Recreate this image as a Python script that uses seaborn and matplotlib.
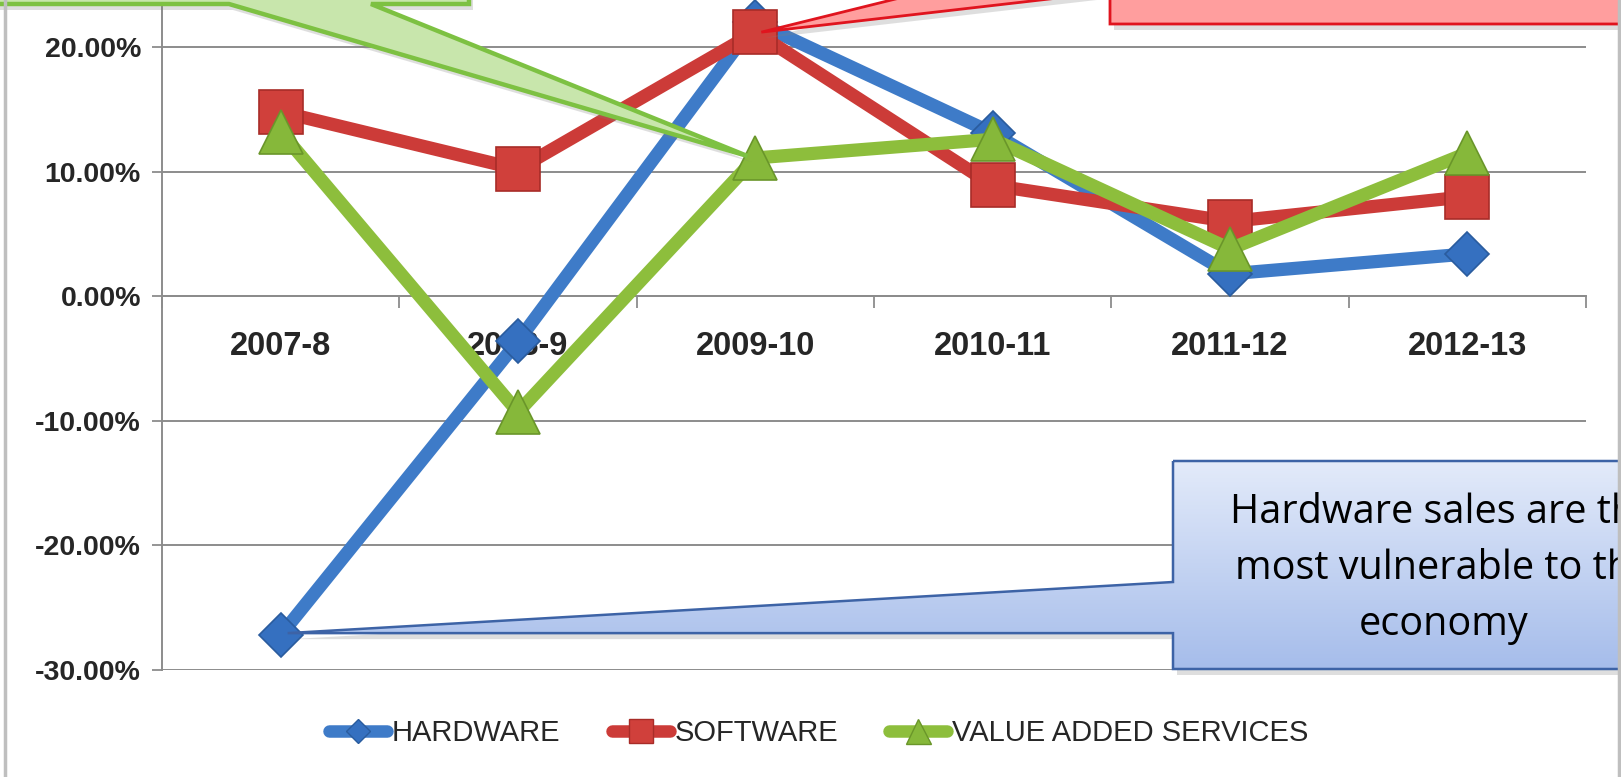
import numpy as np
import pandas as pd
import matplotlib
matplotlib.use("Agg")
import matplotlib.pyplot as plt
import seaborn as sns
from matplotlib.patches import Polygon
from matplotlib.lines import Line2D
from matplotlib.ticker import FixedLocator

# ---------------- data ----------------
categories = ["2007-8", "2008-9", "2009-10", "2010-11", "2011-12", "2012-13"]
hardware = [-27.2, -3.6, 22.0, 13.1, 1.8, 3.4]
software = [14.8, 10.2, 21.2, 8.9, 6.0, 8.0]
value_added = [13.2, -9.3, 11.1, 12.6, 3.8, 11.5]
series_names = ["HARDWARE", "SOFTWARE", "VALUE ADDED SERVICES"]
y_ticks = [-30, -20, -10, 0, 10, 20]
y_tick_labels = ["-30.00%", "-20.00%", "-10.00%", "0.00%", "10.00%", "20.00%"]
callout_lines = ["Hardware sales are the", "most vulnerable to the", "economy"]

# ---------------- style ----------------
sns.set_theme(style="white")
plt.rcParams["font.family"] = ["Liberation Sans", "DejaVu Sans"]

BLUE, RED, GREEN = "#3E7BC8", "#CC3B38", "#8DBE3C"
GRID = "#8C8C8C"

W, H = 1621, 777
fig = plt.figure(figsize=(W / 100, H / 100), dpi=100)
fig.patch.set_facecolor("white")
ax = fig.add_axes([162 / W, (H - 670) / H, (1586 - 162) / W, 670 / H])

pos = np.arange(len(categories))
df = pd.DataFrame({"pos": pos, "HARDWARE": hardware, "SOFTWARE": software,
                   "VALUE ADDED SERVICES": value_added})

specs = [
    ("HARDWARE", BLUE, "D", 22, "#3570C0", "#2A5C9E", 3),
    ("SOFTWARE", RED, "s", 31, "#D0403B", "#A82C28", 4),
    ("VALUE ADDED SERVICES", GREEN, "^", 32, "#86B83A", "#6A962A", 5),
]
for name, col, mk, ms, mfc, mec, z in specs:
    sns.lineplot(data=df, x="pos", y=name, ax=ax, color=col, linewidth=9.5,
                 marker=mk, markersize=ms, markerfacecolor=mfc,
                 markeredgecolor=mec, markeredgewidth=1.2, sort=False,
                 legend=False, zorder=z, solid_joinstyle="round",
                 solid_capstyle="round")

ax.set_xlim(-0.5, len(categories) - 0.5)
ax.set_ylim(-30, 23.78)
ax.set_xlabel("")
ax.set_ylabel("")
ax.set_facecolor("white")

# grid / spines
ax.yaxis.grid(True, color=GRID, linewidth=1.4)
ax.xaxis.grid(False)
ax.set_axisbelow(True)
for s in ["top", "right"]:
    ax.spines[s].set_visible(False)
ax.spines["left"].set_color(GRID)
ax.spines["left"].set_linewidth(1.4)
ax.spines["bottom"].set_position(("data", 0))
ax.spines["bottom"].set_color(GRID)
ax.spines["bottom"].set_linewidth(1.4)

ax.set_xticks(pos)
ax.set_xticklabels(categories, fontsize=23.5, fontweight="bold")
ax.xaxis.set_minor_locator(FixedLocator(np.arange(-0.5, len(categories), 1.0)))
ax.tick_params(axis="x", which="major", bottom=True, length=0, pad=25)
ax.tick_params(axis="x", which="minor", bottom=True, length=8.5, width=1.3,
               color=GRID, direction="out")
ax.set_yticks(y_ticks)
ax.set_yticklabels(y_tick_labels, fontsize=20.5, fontweight="bold")
ax.tick_params(axis="y", left=True, length=7.2, width=1.3, color=GRID,
               direction="out", pad=8)

# legend
handles = [
    Line2D([], [], color=BLUE, lw=9, marker="D", ms=12, mfc="#3570C0",
           mec="#2A5C9E", solid_capstyle="round"),
    Line2D([], [], color=RED, lw=9, marker="s", ms=17, mfc="#D0403B",
           mec="#A82C28", solid_capstyle="round"),
    Line2D([], [], color=GREEN, lw=9, marker="^", ms=18, mfc="#86B83A",
           mec="#6A962A", solid_capstyle="round"),
]
fig.legend(handles, series_names, loc="center", bbox_to_anchor=(0.505, (H - 733) / H),
           ncol=3, frameon=False, fontsize=21, handlelength=2.0,
           handletextpad=0.15, columnspacing=1.75)

# ---------------- callouts (overlay in pixel coords) ----------------
fig.canvas.draw()


def to_px(xd, yd):
    dx, dy = ax.transData.transform((xd, yd))
    return dx, H - dy


ov = fig.add_axes([0, 0, 1, 1])
ov.set_zorder(10)
ov.axis("off")


def callout(points, face, edge, lw, shadow=True):
    if shadow:
        sh = Polygon([(x + 4, y + 6) for x, y in points], closed=True,
                     facecolor="#7f7f7f", edgecolor="none", alpha=0.25, zorder=1)
        ov.add_patch(sh)
    p = Polygon(points, closed=True, facecolor=face, edgecolor=edge,
                linewidth=lw, zorder=2, joinstyle="miter")
    ov.add_patch(p)
    return p


# green callout -> VALUE ADDED 2009-10
gx, gy = to_px(2, value_added[2])
green_pts = [(-60, -120), (469, -120), (469, 4), (371, 4), (gx - 8, gy - 2),
             (229, 4), (-60, 4)]
callout(green_pts, "#C8E6AC", "#7DC142", 3.2)

# red callout -> SOFTWARE 2009-10
rx, ry = to_px(2, software[2])
red_pts = [(1110, -120), (1760, -120), (1760, 24), (1110, 24), (1110, -8),
           (rx + 6, ry), (1110, -54)]
callout(red_pts, "#FF9E9E", "#E0141E", 2.0)

# blue callout -> HARDWARE 2007-8
bx, by = to_px(0, hardware[0])
blue_pts = [(1173, 461), (1760, 461), (1760, 669), (1173, 669), (1173, by - 2),
            (bx + 7, by - 2), (1173, 582)]
sh = Polygon([(x + 4, y + 6) for x, y in blue_pts], closed=True,
             facecolor="#7f7f7f", edgecolor="none", alpha=0.25, zorder=1)
ov.add_patch(sh)
bpoly = Polygon(blue_pts, closed=True, facecolor="none", edgecolor="#3D63A6",
                linewidth=1.8, zorder=3)
ov.add_patch(bpoly)
top_c = np.array([0.89, 0.92, 0.98])
bot_c = np.array([0.65, 0.74, 0.92])
t = np.linspace(0, 1, 256)[:, None, None]
grad = top_c * (1 - t) + bot_c * t
grad = np.repeat(grad, 2, axis=1)
im = ov.imshow(grad, extent=[bx, 1760, 669, 461], origin="upper",
               aspect="auto", zorder=2, interpolation="bilinear")
clip = Polygon(blue_pts, closed=True, transform=ov.transData)
im.set_clip_path(clip)

ov.set_xlim(0, W)
ov.set_ylim(H, 0)

CALLOUT_FONT = ["Open Sans", "Lato", "DejaVu Sans"]
for txt, yy in zip(callout_lines, [513, 569, 625]):
    ov.text(1444, yy, txt, ha="center", va="center", fontsize=28.5,
            family=CALLOUT_FONT, color="black", zorder=4)

# chart frame borders
ov.plot([5, 5], [0, H], color="#BFBFBF", lw=2.5, zorder=6)
ov.plot([1619, 1619], [0, H], color="#BFBFBF", lw=2.5, zorder=6)

fig.savefig("out.png", dpi=100, facecolor="white")
